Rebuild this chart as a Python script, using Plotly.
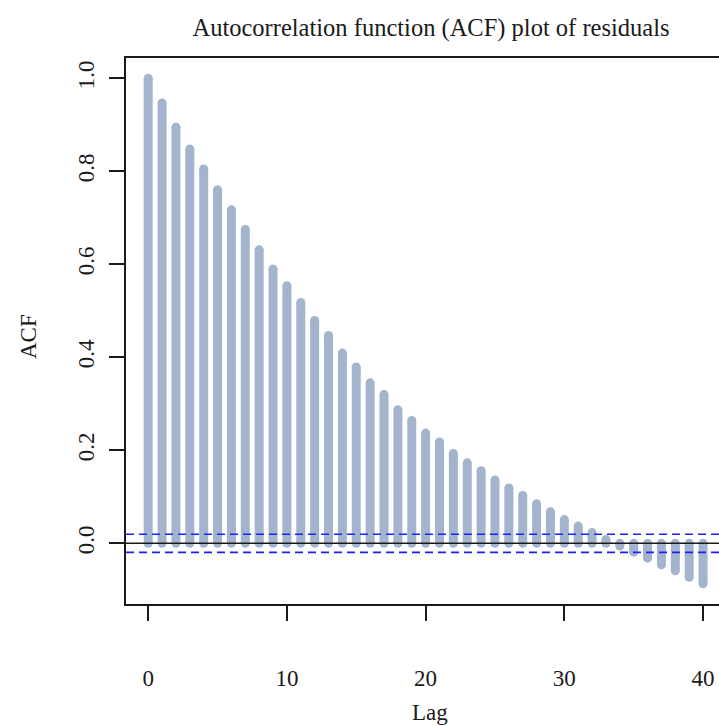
import plotly.graph_objects as go

# Sample autocorrelations of the residuals, lags 0..40
lags = list(range(41))
acf = [1.000, 0.947, 0.895, 0.848, 0.805, 0.760, 0.717, 0.675, 0.631, 0.590,
       0.554, 0.518, 0.479, 0.447, 0.409, 0.379, 0.345, 0.320, 0.287, 0.264,
       0.237, 0.218, 0.193, 0.173, 0.156, 0.136, 0.119, 0.103, 0.085, 0.068,
       0.051, 0.037, 0.023, 0.008, -0.006, -0.019, -0.032, -0.046, -0.059,
       -0.073, -0.087]
conf_limit = 0.0196          # approx. 95% white-noise bounds
x_ticks = [0, 10, 20, 30, 40]
y_ticks = [0.0, 0.2, 0.4, 0.6, 0.8, 1.0]
y_tick_text = ["0.0", "0.2", "0.4", "0.6", "0.8", "1.0"]

BAR = "#a2b5cd"
INK = "#1a1a1a"
SERIF = "Liberation Serif, Times New Roman, serif"

W, H = 719, 725
M_L, M_R, M_T, M_B = 126, 0, 58, 121
PLOT_W, PLOT_H = W - M_L - M_R, H - M_T - M_B

# Vertical spikes from 0 to each ACF value (None breaks the path)
seg_x, seg_y = [], []
for k, v in zip(lags, acf):
    seg_x += [k, k, None]
    seg_y += [0, v, None]

fig = go.Figure()
fig.add_trace(go.Scatter(
    x=seg_x, y=seg_y, mode="lines+markers",
    line=dict(color=BAR, width=9),
    marker=dict(color=BAR, size=9, line=dict(width=0)),
    hoverinfo="skip", showlegend=False,
))

# zero line and dashed confidence bounds
fig.add_hline(y=0, line=dict(color=INK, width=1.5))
for lim in (conf_limit, -conf_limit):
    fig.add_hline(y=lim, line=dict(color="#1f1fff", width=1.6, dash="8px,5px"))

axis_font = dict(family=SERIF, size=23, color=INK)


def px_to_paper_x(px):
    return (px - M_L) / PLOT_W


def px_to_paper_y(py):
    return (H - M_B - py) / PLOT_H


fig.update_layout(
    width=W, height=H,
    margin=dict(l=M_L, r=M_R, t=M_T, b=M_B, autoexpand=False),
    paper_bgcolor="white", plot_bgcolor="white",
    font=axis_font,
    title=dict(text="Autocorrelation function (ACF) plot of residuals",
               x=431 / W, xref="container", xanchor="center",
               y=1 - 27 / H, yref="container", yanchor="middle",
               font=dict(family=SERIF, size=24.5, color=INK)),
    xaxis=dict(range=[-1.6, 41.15], tickvals=x_ticks, ticks="outside",
               ticklen=15, tickwidth=1.5, tickcolor=INK,
               showline=True, linecolor=INK, linewidth=1.5, mirror=True,
               showgrid=False, zeroline=False, tickfont=axis_font,
               ticklabelstandoff=38, automargin=False),
    yaxis=dict(range=[-0.1305, 1.0435], tickvals=y_ticks, ticktext=y_tick_text,
               tickangle=-90, ticks="outside", ticklen=15, tickwidth=1.5,
               tickcolor=INK, showline=True, linecolor=INK, linewidth=1.5,
               mirror=False, showgrid=False, zeroline=False, tickfont=axis_font,
               ticklabelstandoff=6, automargin=False),
    annotations=[
        dict(text="Lag", x=px_to_paper_x(430), y=px_to_paper_y(712),
             xref="paper", yref="paper", showarrow=False,
             xanchor="center", yanchor="middle", font=axis_font),
        dict(text="ACF", x=px_to_paper_x(28), y=px_to_paper_y(337),
             xref="paper", yref="paper", showarrow=False, textangle=-90,
             xanchor="center", yanchor="middle", font=axis_font),
    ],
)

fig.write_html("out.html")
